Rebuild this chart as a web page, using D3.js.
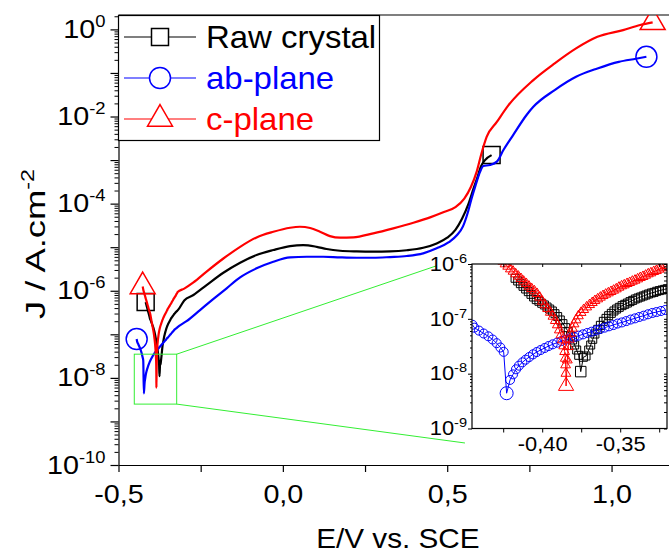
<!DOCTYPE html>
<html><head><meta charset="utf-8">
<script src="https://cdn.jsdelivr.net/npm/d3@7"></script>
<style>
body{margin:0;background:#fff}
svg{display:block}
text{font-family:Arial,"Liberation Sans",sans-serif}
</style>
</head><body>
<svg id="c" width="669" height="554"></svg>
<script>
// ---------------- DATA ----------------
const seriesNames = ["Raw crystal", "ab-plane", "c-plane"];

// low-potential part (also shown in the inset): [E (V vs SCE), J (A/cm2)]
const rawLow = [[-0.4174,5.49e-7],[-0.4157,4.9e-7],[-0.4140,4.38e-7],[-0.4123,3.92e-7],[-0.4106,3.5e-7],[-0.4089,3.13e-7],[-0.4072,2.8e-7],[-0.4055,2.5e-7],[-0.4038,2.24e-7],[-0.4021,2.09e-7],[-0.4003,1.92e-7],[-0.3986,1.79e-7],[-0.3969,1.64e-7],[-0.3952,1.51e-7],[-0.3935,1.39e-7],[-0.3918,1.24e-7],[-0.3901,1.1e-7],[-0.3884,9.53e-8],[-0.3867,8.17e-8],[-0.3850,6.9e-8],[-0.3833,5.83e-8],[-0.3818,4.87e-8],[-0.3805,4.11e-8],[-0.3792,3.33e-8],[-0.3779,2.7e-8],[-0.3766,2.16e-8],[-0.3753,1.09e-8],[-0.3736,1.99e-8],[-0.3719,2.1e-8],[-0.3702,2.7e-8],[-0.3689,3.33e-8],[-0.3676,4.23e-8],[-0.3662,5.28e-8],[-0.3644,6.44e-8],[-0.3627,7.61e-8],[-0.3608,9.0e-8],[-0.3591,1.02e-7],[-0.3574,1.14e-7],[-0.3557,1.26e-7],[-0.3540,1.39e-7],[-0.3523,1.51e-7],[-0.3506,1.62e-7],[-0.3488,1.74e-7],[-0.3471,1.84e-7],[-0.3454,1.94e-7],[-0.3437,2.06e-7],[-0.3420,2.17e-7],[-0.3403,2.30e-7],[-0.3386,2.40e-7],[-0.3369,2.50e-7],[-0.3352,2.61e-7],[-0.3335,2.72e-7],[-0.3318,2.84e-7],[-0.3300,2.96e-7],[-0.3283,3.04e-7],[-0.3266,3.18e-7],[-0.3249,3.27e-7],[-0.3232,3.36e-7],[-0.3215,3.45e-7],[-0.3198,3.55e-7]];

const abLow = [[-0.4447,7.8e-8],[-0.4435,6.9e-8],[-0.4405,6.1e-8],[-0.4375,5.4e-8],[-0.4345,4.8e-8],[-0.4318,4.2e-8],[-0.4292,3.6e-8],[-0.4268,3.0e-8],[-0.4247,2.5e-8],[-0.4228,4.4e-9],[-0.4206,7.7e-9],[-0.4187,9.7e-9],[-0.4168,1.2e-8],[-0.4149,1.4e-8],[-0.4127,1.61e-8],[-0.4106,1.8e-8],[-0.4083,2.01e-8],[-0.4059,2.25e-8],[-0.4035,2.48e-8],[-0.4010,2.7e-8],[-0.3984,2.94e-8],[-0.3959,3.19e-8],[-0.3933,3.43e-8],[-0.3905,3.67e-8],[-0.3877,3.94e-8],[-0.3850,4.17e-8],[-0.3822,4.41e-8],[-0.3794,4.66e-8],[-0.3766,4.93e-8],[-0.3739,5.21e-8],[-0.3711,5.52e-8],[-0.3683,5.83e-8],[-0.3655,6.17e-8],[-0.3628,6.53e-8],[-0.3600,6.9e-8],[-0.3572,7.3e-8],[-0.3544,7.7e-8],[-0.3517,8.2e-8],[-0.3489,8.6e-8],[-0.3461,9.1e-8],[-0.3433,9.7e-8],[-0.3405,1.02e-7],[-0.3378,1.08e-7],[-0.3350,1.14e-7],[-0.3322,1.21e-7],[-0.3294,1.28e-7],[-0.3267,1.33e-7],[-0.3239,1.39e-7],[-0.3211,1.45e-7]];

const cLow = [[-0.4265,1.25e-6],[-0.4252,1.12e-6],[-0.4238,1.0e-6],[-0.4221,9.06e-7],[-0.4204,8.1e-7],[-0.4187,7.35e-7],[-0.4170,6.58e-7],[-0.4153,5.96e-7],[-0.4136,5.4e-7],[-0.4119,4.83e-7],[-0.4102,4.38e-7],[-0.4085,3.92e-7],[-0.4068,3.55e-7],[-0.4050,3.22e-7],[-0.4033,2.88e-7],[-0.4016,2.47e-7],[-0.3999,2.08e-7],[-0.3982,1.79e-7],[-0.3965,1.53e-7],[-0.3948,1.31e-7],[-0.3931,1.11e-7],[-0.3916,9.27e-8],[-0.3903,7.73e-8],[-0.3890,6.25e-8],[-0.3880,5.07e-8],[-0.3871,4.11e-8],[-0.3862,3.2e-8],[-0.3856,2.52e-8],[-0.3852,1.9e-8],[-0.3850,1.44e-8],[-0.3848,1.01e-8],[-0.3847,5.96e-9],[-0.3839,1.77e-8],[-0.3833,3.1e-8],[-0.3826,4.23e-8],[-0.3818,5.44e-8],[-0.3807,6.72e-8],[-0.3796,8.05e-8],[-0.3783,9.53e-8],[-0.3768,1.13e-7],[-0.3751,1.30e-7],[-0.3734,1.47e-7],[-0.3715,1.64e-7],[-0.3696,1.81e-7],[-0.3679,1.97e-7],[-0.3662,2.14e-7],[-0.3644,2.30e-7],[-0.3627,2.47e-7],[-0.3610,2.64e-7],[-0.3593,2.80e-7],[-0.3576,2.96e-7],[-0.3559,3.13e-7],[-0.3542,3.31e-7],[-0.3525,3.5e-7],[-0.3508,3.75e-7],[-0.3491,3.97e-7],[-0.3474,4.14e-7],[-0.3456,4.38e-7],[-0.3439,4.57e-7],[-0.3422,4.83e-7],[-0.3405,5.04e-7],[-0.3388,5.32e-7],[-0.3371,5.63e-7],[-0.3354,5.88e-7],[-0.3337,6.21e-7],[-0.3320,6.58e-7],[-0.3303,6.86e-7],[-0.3285,7.25e-7],[-0.3268,7.55e-7],[-0.3251,8.0e-7],[-0.3234,8.45e-7],[-0.3217,8.81e-7],[-0.3200,9.33e-7]];

// high-potential part (main plot only)
const rawHigh = [[-0.300,6.0e-7],[-0.272,8.0e-7],[-0.232,1.35e-6],[-0.181,2.59e-6],[-0.130,4.4e-6],[-0.080,6.6e-6],[-0.029,8.6e-6],[0.022,1.06e-5],[0.062,1.12e-5],[0.103,1.02e-5],[0.133,9.1e-6],[0.174,8.3e-6],[0.225,8.0e-6],[0.275,7.9e-6],[0.326,8.0e-6],[0.377,8.5e-6],[0.427,9.7e-6],[0.468,1.22e-5],[0.500,1.65e-5],[0.525,2.5e-5],[0.545,4.5e-5],[0.565,1.0e-4],[0.580,2.2e-4],[0.592,4.0e-4],[0.602,7.0e-4],[0.615,1.0e-3],[0.635,1.3e-3]];

const abHigh = [[-0.293,2.0e-7],[-0.252,3.6e-7],[-0.212,6.4e-7],[-0.171,1.14e-6],[-0.130,2.03e-6],[-0.080,3.27e-6],[-0.029,4.64e-6],[0.022,5.84e-6],[0.073,6.04e-6],[0.123,6.04e-6],[0.174,5.84e-6],[0.225,5.73e-6],[0.275,5.73e-6],[0.326,5.94e-6],[0.377,6.27e-6],[0.427,7.22e-6],[0.468,9.4e-6],[0.505,1.3e-5],[0.530,1.9e-5],[0.548,3.0e-5],[0.562,6.0e-5],[0.574,1.3e-4],[0.586,2.6e-4],[0.600,5.4e-4],[0.610,7.3e-4],[0.630,7.7e-4],[0.651,9.2e-4],[0.671,1.7e-3],[0.701,3.8e-3],[0.742,1.1e-2],[0.762,1.67e-2],[0.827,4.05e-2],[0.892,8.17e-2],[0.957,0.127],[1.022,0.18],[1.074,0.212],[1.106,0.235]];

const cHigh = [[-0.300,1.12e-6],[-0.272,1.55e-6],[-0.232,2.75e-6],[-0.181,5.5e-6],[-0.130,1.02e-5],[-0.080,1.68e-5],[-0.029,2.26e-5],[0.022,2.8e-5],[0.052,2.95e-5],[0.083,2.75e-5],[0.113,2.26e-5],[0.143,1.8e-5],[0.174,1.65e-5],[0.214,1.68e-5],[0.275,2.08e-5],[0.336,2.71e-5],[0.397,3.64e-5],[0.450,4.9e-5],[0.490,6.4e-5],[0.525,8.3e-5],[0.552,1.3e-4],[0.572,2.4e-4],[0.590,5.5e-4],[0.604,1.4e-3],[0.620,3.4e-3],[0.651,7.5e-3],[0.686,1.8e-2],[0.762,6.86e-2],[0.827,0.166],[0.892,0.366],[0.957,0.676],[1.035,0.964],[1.087,1.26],[1.125,1.45]];

// axes / ticks
const xDomain = [-0.5, 1.2];
const yDomain = [1e-10, 2.14];
const xTicksMajor = [-0.5, 0.0, 0.5, 1.0];
const xTicksMinor = [-0.25, 0.25, 0.75];
const yDecades = [0,-1,-2,-3,-4,-5,-6,-7,-8,-9,-10];
const yLabelExps = [0,-2,-4,-6,-8,-10];
const insetXDomain = [-0.445, -0.32];
const insetYDomain = [1e-9, 1e-6];
const insetXTicksMajor = [-0.40, -0.35];
const insetXTicksMinor = [-0.425, -0.375, -0.325];
const insetYExps = [-6,-7,-8,-9];
// zoom box (main data coords) and connector end points
const zoomBoxE = [-0.452, -0.323];
const zoomBoxJ = [2.5e-9, 3.5e-8];
const connectorEnds = [[0.468, 3.75e-6], [0.554, 3.2e-10]];
const xTitle = "E/V vs. SCE";
const yTitleBase = "J / A.cm", yTitleSup = "-2";

// ---------------- STYLE ----------------
const FONT = "Arial, 'Liberation Sans', sans-serif";
const colors = ["#000000", "#0000ff", "#ff0000"];
const symbols = [d3.symbolSquare, d3.symbolCircle, d3.symbolTriangle];
const mainSymSize = [289, 346, 270];
const insetSymSize = [64, 64, 42];
const insetBigSymSize = [110, 133, 100];

const svg = d3.select("#c");
const M = {l:118.5, t:15, b:465, r:677.3};
const x = d3.scaleLinear().domain(xDomain).range([M.l, M.r]);
const y = d3.scaleLog().domain(yDomain).range([M.b, M.t]);

function stretchTicks(g, sx) {
  g.selectAll(".tick text").each(function(){
    const t = d3.select(this);
    const x0 = +t.attr("x") || 0;
    t.attr("x", x0/sx).attr("transform", `scale(${sx},1)`);
  });
}

const defs = svg.append("defs");
defs.append("clipPath").attr("id","mainClip").append("rect")
  .attr("x",M.l).attr("y",M.t).attr("width",M.r-M.l).attr("height",M.b-M.t);

const series = [
  {name:seriesNames[0], low:rawLow, high:rawHigh},
  {name:seriesNames[1], low:abLow, high:abHigh},
  {name:seriesNames[2], low:cLow, high:cHigh}
];

// top frame line
svg.append("line").attr("x1",M.l).attr("x2",M.r).attr("y1",M.t).attr("y2",M.t)
  .attr("stroke","#000").attr("stroke-width",1.2);

// main lines
const mainG = svg.append("g").attr("clip-path","url(#mainClip)");
const line = d3.line().x(d=>x(d[0])).y(d=>y(d[1])).curve(d3.curveMonotoneX);
series.forEach((s,i)=>{
  const all = s.low.concat(s.high);
  mainG.append("path").attr("d",line(all)).attr("fill","none")
    .attr("stroke",colors[i]).attr("stroke-width",2.2).attr("stroke-linejoin","round");
  [all[0], all[all.length-1]].forEach(p=>{
    mainG.append("path").attr("d",d3.symbol(symbols[i], mainSymSize[i])())
      .attr("transform",`translate(${x(p[0])},${y(p[1])})`)
      .attr("fill","none").attr("stroke",colors[i]).attr("stroke-width",1.5);
  });
});

// axes (main)
const fsTick = 25, fsSup = 16, sxTick = 1.15;
const gX = svg.append("g").attr("transform",`translate(0,${M.b})`)
  .call(d3.axisBottom(x).tickValues(xTicksMajor.concat(xTicksMinor)).tickSize(7).tickSizeOuter(0).tickPadding(13)
    .tickFormat(d => xTicksMajor.includes(d) ? d.toFixed(1).replace(".", ",") : ""));
gX.attr("font-size",fsTick).attr("font-family",FONT);
gX.selectAll("line,path").attr("stroke-width",1.2);
stretchTicks(gX, sxTick);

const gY = svg.append("g").attr("transform",`translate(${M.l},0)`)
  .call(d3.axisLeft(y).tickValues(yDecades.map(e=>Math.pow(10,e))).tickSize(8).tickSizeOuter(0).tickPadding(5));
gY.attr("font-size",fsTick).attr("font-family",FONT);
gY.selectAll("line,path").attr("stroke-width",1.2);
gY.selectAll(".tick text").each(function(d){
  const e = Math.round(Math.log10(d));
  const t = d3.select(this).text(null);
  if (yLabelExps.includes(e)) {
    t.append("tspan").text("10");
    t.append("tspan").attr("dy",-11).attr("font-size",fsSup).text(String(e));
  }
});
stretchTicks(gY, sxTick);
const yMinor = [];
yDecades.forEach(e=>{ for(let k=2;k<=9;k++){ const v=k*Math.pow(10,e); if(v>=yDomain[0]&&v<=yDomain[1]) yMinor.push(v);} });
const gYm = svg.append("g").attr("transform",`translate(${M.l},0)`)
  .call(d3.axisLeft(y).tickValues(yMinor).tickSize(4).tickFormat(""));
gYm.select(".domain").remove();

// axis titles
svg.append("text").attr("transform",`translate(${(M.l+M.r)/2},548) scale(1.1,1)`).attr("text-anchor","middle")
  .attr("font-size",27).text(xTitle);
const yt = svg.append("text").attr("transform","translate(45,244) rotate(-90) scale(1.3,1)")
  .attr("text-anchor","middle").attr("font-size",28);
yt.append("tspan").text(yTitleBase);
yt.append("tspan").attr("dy",-11).attr("font-size",18).text(yTitleSup);

// legend
const leg = svg.append("g");
leg.append("rect").attr("x",M.l).attr("y",15.5).attr("width",261).attr("height",125)
  .attr("fill","#fff").attr("stroke","#000").attr("stroke-width",1.2);
series.forEach((s,i)=>{
  const cy = 37 + i*41;
  leg.append("line").attr("x1",124).attr("x2",196).attr("y1",cy).attr("y2",cy)
    .attr("stroke",colors[i]).attr("stroke-width",1.2);
  leg.append("path").attr("d",d3.symbol(symbols[i], mainSymSize[i])())
    .attr("transform",`translate(160,${cy})`).attr("fill","#fff").attr("stroke",colors[i]).attr("stroke-width",1.5);
  leg.append("text").attr("transform",`translate(206,${cy+11}) scale(1.08,1)`).attr("font-size",30.5)
    .attr("fill",colors[i]).text(s.name);
});

// zoom box + connectors
const green = "#33ee33";
svg.append("rect").attr("x",x(zoomBoxE[0])).attr("y",y(zoomBoxJ[1]))
  .attr("width",x(zoomBoxE[1])-x(zoomBoxE[0])).attr("height",y(zoomBoxJ[0])-y(zoomBoxJ[1]))
  .attr("fill","none").attr("stroke",green).attr("stroke-width",1);
svg.append("line").attr("x1",x(zoomBoxE[1])).attr("y1",y(zoomBoxJ[1]))
  .attr("x2",x(connectorEnds[0][0])).attr("y2",y(connectorEnds[0][1])).attr("stroke",green).attr("stroke-width",1);
svg.append("line").attr("x1",x(zoomBoxE[1])).attr("y1",y(zoomBoxJ[0]))
  .attr("x2",x(connectorEnds[1][0])).attr("y2",y(connectorEnds[1][1])).attr("stroke",green).attr("stroke-width",1);

// ---------------- INSET ----------------
const I = {l:472, r:667, t:264, b:428.5};
const ix = d3.scaleLinear().domain(insetXDomain).range([I.l, I.r]);
const iy = d3.scaleLog().domain(insetYDomain).range([I.b, I.t]);
defs.append("clipPath").attr("id","insetClip").append("rect")
  .attr("x",I.l).attr("y",I.t).attr("width",I.r-I.l).attr("height",I.b-I.t);
svg.append("rect").attr("x",I.l).attr("y",I.t).attr("width",I.r-I.l).attr("height",I.b-I.t).attr("fill","#fff");
const inG = svg.append("g").attr("clip-path","url(#insetClip)");
const iline = d3.line().x(d=>ix(d[0])).y(d=>iy(d[1]));
[0,1,2].forEach(i=>{
  const s = series[i];
  inG.append("path").attr("d",iline(s.low)).attr("fill","none").attr("stroke",colors[i]).attr("stroke-width",1);
  const mi = d3.minIndex(s.low, d=>d[1]);
  inG.selectAll(null).data(s.low).join("path")
    .attr("d",(d,j)=>d3.symbol(symbols[i], j===mi ? insetBigSymSize[i] : insetSymSize[i])())
    .attr("transform",d=>`translate(${ix(d[0])},${iy(d[1])})`)
    .attr("fill","none").attr("stroke",colors[i]).attr("stroke-width",1);
});
svg.append("rect").attr("x",I.l).attr("y",I.t).attr("width",I.r-I.l).attr("height",I.b-I.t)
  .attr("fill","none").attr("stroke","#000").attr("stroke-width",1.2);

const fsI = 19.5, fsIs = 13, sxI = 1.12;
const giX = svg.append("g").attr("transform",`translate(0,${I.b})`)
  .call(d3.axisBottom(ix).tickValues(insetXTicksMajor.concat(insetXTicksMinor)).tickSize(4).tickSizeOuter(0).tickPadding(5)
    .tickFormat(d => insetXTicksMajor.includes(d) ? d.toFixed(2).replace(".", ",") : ""));
giX.attr("font-size",fsI).attr("font-family",FONT);
giX.select(".domain").remove();
stretchTicks(giX, sxI);
const giXt = svg.append("g").attr("transform",`translate(0,${I.t})`)
  .call(d3.axisBottom(ix).tickValues(insetXTicksMajor.concat(insetXTicksMinor)).tickSize(3).tickFormat(""));
giXt.select(".domain").remove();

const giY = svg.append("g").attr("transform",`translate(${I.l},0)`)
  .call(d3.axisLeft(iy).tickValues(insetYExps.map(e=>Math.pow(10,e))).tickSize(4).tickSizeOuter(0).tickPadding(1));
giY.attr("font-size",fsI).attr("font-family",FONT);
giY.select(".domain").remove();
giY.selectAll(".tick text").each(function(d){
  const e = Math.round(Math.log10(d));
  const t = d3.select(this).text(null);
  t.append("tspan").text("10");
  t.append("tspan").attr("dy",-8).attr("font-size",fsIs).text(String(e));
});
stretchTicks(giY, sxI);
const iyMinor = [];
insetYExps.forEach(e=>{ for(let k=2;k<=9;k++){ const v=k*Math.pow(10,e); if(v>=insetYDomain[0]&&v<=insetYDomain[1]) iyMinor.push(v);} });
const giYm = svg.append("g").attr("transform",`translate(${I.l},0)`)
  .call(d3.axisLeft(iy).tickValues(iyMinor).tickSize(2).tickFormat(""));
giYm.select(".domain").remove();
const giYr = svg.append("g").attr("transform",`translate(${I.r},0)`)
  .call(d3.axisLeft(iy).tickValues(insetYExps.map(e=>Math.pow(10,e)).concat(iyMinor)).tickSize(3).tickFormat(""));
giYr.select(".domain").remove();
</script>
</body></html>
